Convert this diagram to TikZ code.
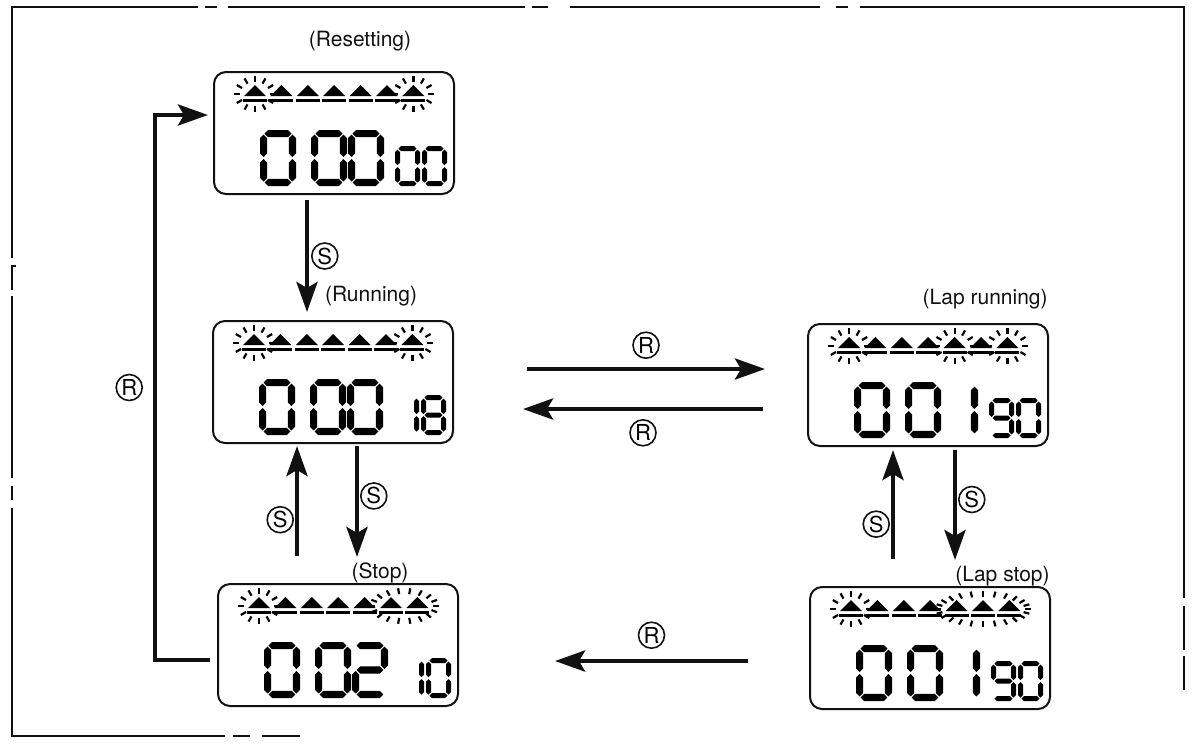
\documentclass[tikz,border=0pt]{standalone}
\usepackage{fontspec}
\setmainfont{TeX Gyre Heros}
\usepackage{tikz}
\usetikzlibrary{arrows.meta,positioning,calc}
\definecolor{ink}{HTML}{111111}

% lcd segments, local pixel coordinates
\newcommand\hseg[3]{\fill ({#1},{#3}) -- ({#1+\segT},{#3-\segT}) -- ({#2-\segT},{#3-\segT}) -- ({#2},{#3}) -- ({#2-\segT},{#3+\segT}) -- ({#1+\segT},{#3+\segT}) -- cycle;}
\newcommand\vseg[3]{\fill ({#1},{#2}) -- ({#1+\segT},{#2+\segT}) -- ({#1+\segT},{#3-\segT}) -- ({#1},{#3}) -- ({#1-\segT},{#3-\segT}) -- ({#1-\segT},{#2+\segT}) -- cycle;}
\def\lcdA{\hseg{\segX+\segT+1}{\segX+\segW-\segT-1}{\segY+\segT}}
\def\lcdB{\vseg{\segX+\segW-\segT}{\segY+\segT+1}{\segY+\segH/2-1}}
\def\lcdC{\vseg{\segX+\segW-\segT}{\segY+\segH/2+1}{\segY+\segH-\segT-1}}
\def\lcdD{\hseg{\segX+\segT+1}{\segX+\segW-\segT-1}{\segY+\segH-\segT}}
\def\lcdE{\vseg{\segX+\segT}{\segY+\segH/2+1}{\segY+\segH-\segT-1}}
\def\lcdF{\vseg{\segX+\segT}{\segY+\segT+1}{\segY+\segH/2-1}}
\def\lcdG{\hseg{\segX+\segT+1}{\segX+\segW-\segT-1}{\segY+\segH/2}}
\def\digzero{A,B,C,D,E,F}
\def\digone{B,C}
\def\digtwo{A,B,G,E,D}
\def\digeight{A,B,C,D,E,F,G}
\def\dignine{A,B,C,D,F,G}
\newcommand\lcddigit[5]{\def\segX{#1}\def\segY{#2}\def\segW{#3}\def\segH{#4}\pgfmathsetmacro\segT{#3/10}%
  \foreach \s in #5 {\csname lcd\s\endcsname}}
% blinking ticks round a mark: cx, cy, rx, ry, step
\newcommand\blink[5]{\foreach \a in {0,#5,...,359}
  {\draw[line width=1.1pt] ({#1+#3*cos(\a)},{#2+#4*sin(\a)}) -- ({#1+(#3+6)*cos(\a)},{#2+(#4+6)*sin(\a)});}}
% one display: node, three big digits, two small digits, blinking marks
\newcommand\lcdface[7]{%
  \begin{scope}[shift={(#1.north west)}]
    \foreach \i in {0,...,6}{
      \fill ({41+26.4*\i-11},24) -- ({41+26.4*\i},13) -- ({41+26.4*\i+11},24) -- cycle;
      \fill ({41+26.4*\i-12},27) rectangle ({41+26.4*\i+12},30);
    }
    \lcddigit{46}{58}{36}{56}{#2}
    \lcddigit{97}{58}{36}{56}{#3}
    \lcddigit{134}{58}{36}{56}{#4}
    \lcddigit{181}{74}{25}{40}{#5}
    \lcddigit{208}{74}{25}{40}{#6}
    #7
  \end{scope}}

\begin{document}
\begin{tikzpicture}[x=0.5pt,y=-0.5pt,
  lcd/.style={draw=ink,line width=1pt,rounded corners=6pt,minimum width=120pt,minimum height=61pt,outer sep=0pt,inner sep=0pt},
  arrow/.style={-{Stealth[length=15pt,width=10.5pt,inset=3pt]},line width=2.2pt,draw=ink},
  key/.style={circle,draw=ink,line width=0.8pt,inner sep=0pt,minimum size=13pt,font=\fontsize{11}{11}\selectfont},
  note/.style={font=\fontsize{10.5}{11}\selectfont,text=ink,inner sep=0pt},
  frame/.style={draw=ink,line width=1pt}
]
\useasboundingbox (0,0) rectangle (1192,746);
% broken outer frame
\draw[frame] (198,7) -- (12,7) -- (12,258);
\draw[frame] (205,7) -- (217,7);
\draw[frame] (228,7) -- (525,7);
\draw[frame] (532,7) -- (548,7);
\draw[frame] (570,7) -- (820,7);
\draw[frame] (836,7) -- (848,7);
\draw[frame] (860,7) -- (1184,7) -- (1184,598);
\draw[frame] (1184,606) -- (1184,650);
\draw[frame] (1184,656) -- (1184,690);
\draw[frame] (16,266) -- (12,266) -- (12,290);
\draw[frame] (12,296) -- (12,478);
\draw[frame] (12,486) -- (12,500);
\draw[frame] (12,508) -- (12,736) -- (225,736);
\draw[frame] (233,736) -- (250,736);
\draw[frame] (262,736) -- (300,736);

\node[lcd] (reset) at (334,133) {};
\node[lcd] (run) at (333,382) {};
\node[lcd] (stop) at (338,645) {};
\node[lcd] (laprun) at (928,385) {};
\node[lcd] (lapstop) at (930,648) {};

\node[note] (resetlabel) at ($(reset.north)+(26,-31)$) {(Resetting)};
\node[note] (runlabel) at ($(run.north)+(38,-25)$) {(Running)};
\node[note] (stoplabel) at ($(stop.north)+(42,-11)$) {(Stop)};
\node[note,anchor=east] (laprunlabel) at ($(laprun.north east)+(0,-25)$) {(Lap running)};
\node[note,anchor=east] (lapstoplabel) at ($(lapstop.north east)+(0,-11)$) {(Lap stop)};

\lcdface{reset}{\digzero}{\digzero}{\digzero}{\digzero}{\digzero}{\blink{41}{22}{15}{12}{30}\blink{199.4}{22}{15}{12}{30}}
\lcdface{run}{\digzero}{\digzero}{\digzero}{\digone}{\digeight}{\blink{41}{22}{15}{12}{30}\blink{199.4}{22}{15}{12}{30}}
\lcdface{stop}{\digzero}{\digzero}{\digtwo}{\digone}{\digzero}{\blink{41}{22}{15}{12}{30}\blink{186.2}{22}{29}{12}{20}}
\lcdface{laprun}{\digzero}{\digzero}{\digone}{\dignine}{\digzero}{\blink{41}{22}{15}{12}{30}\blink{146.6}{22}{15}{12}{30}\blink{199.4}{22}{15}{12}{30}}
\lcdface{lapstop}{\digzero}{\digzero}{\digone}{\dignine}{\digzero}{\blink{41}{22}{15}{12}{30}\blink{173}{22}{42}{12}{15}}

\draw[arrow] ($(reset.south)+(-27,6)$) -- node[key,right=2pt] (s1) {S} ($(run.north)+(-26,-9)$);
\draw[arrow] ($(stop.north)+(-41,-28)$) -- node[key,left=1.5pt,pos=0.33] (s2) {S} ($(run.south)+(-36,3)$);
\draw[arrow] ($(run.south)+(24,3)$) -- node[key,right=1.5pt,pos=0.45] (s3) {S} ($(stop.north)+(19,-27)$);
\draw[arrow] ($(lapstop.north)+(-37,-28)$) -- node[key,left=1.5pt,pos=0.32] (s4) {S} ($(laprun.south)+(-35,4)$);
\draw[arrow] ($(laprun.south)+(27,4)$) -- node[key,right=1.5pt,pos=0.45] (s5) {S} ($(lapstop.north)+(25,-27)$);
\draw[arrow] ($(run.east)+(74,-13)$) -- node[key,above=5pt] (r1) {R} ($(laprun.west)+(-43,-16)$);
\draw[arrow] ($(laprun.west)+(-45,24)$) -- node[key,below=5pt] (r2) {R} ($(run.east)+(70,27)$);
\draw[arrow] ($(lapstop.west)+(-62,13)$) -- node[key,above=6pt] (r3) {R} ($(stop.east)+(97,16)$);
\draw[arrow] ($(stop.west)+(-8,15)$) -- ++(-55,0) |- node[key,left=6pt,pos=0.25] (r4) {R} ($(reset.west)+(-6,-18)$);
\end{tikzpicture}
\end{document}
